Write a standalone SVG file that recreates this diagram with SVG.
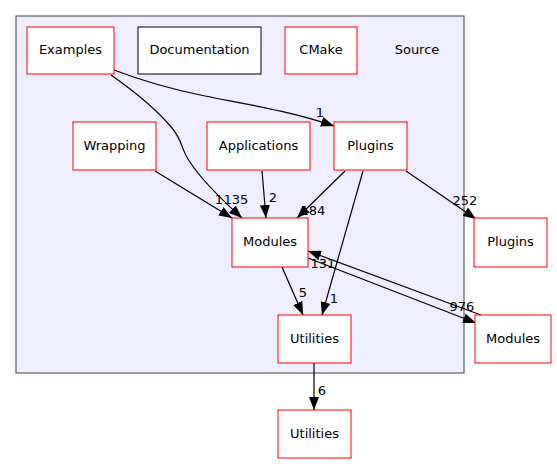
<svg xmlns="http://www.w3.org/2000/svg" width="557" height="464" viewBox="0 0 557 464">
<style>
text{font-family:"DejaVu Sans",Verdana,sans-serif;font-size:13px;fill:#000000;text-anchor:middle}
.n{fill:#fff;stroke:#ff0000;stroke-width:1}
.d{fill:#fff;stroke:#000;stroke-width:1}
.e{fill:none;stroke:#000;stroke-width:1.2;marker-end:url(#a)}
</style>
<defs>
<marker id="a" viewBox="0 0 13 10" refX="13" refY="5" markerWidth="13" markerHeight="10" orient="auto" markerUnits="userSpaceOnUse">
<path d="M0,0 L13,5 L0,10 Z" fill="#000"/>
</marker>
</defs>
<rect x="0" y="0" width="557" height="464" fill="#fff"/>
<g id="cluster_Source">
<rect x="16" y="16" width="448" height="357" fill="#eeeeff" stroke="#404040" stroke-width="1"/>
<text x="417" y="54">Source</text>
</g>
<g id="connectors">
<path class="e" d="M111,75 C131,89 157,110 172,128 C183,141 181,150 190,162 C200,178 220,198 242,218"/>
<path class="e" d="M114,70 C140,80 170,89 205,96 C245,104 290,111 334,126"/>
<path class="e" d="M155,171 L232,218"/>
<path class="e" d="M262,171 L266,218"/>
<path class="e" d="M345,171 L297,218"/>
<path class="e" d="M363,171 L322,315"/>
<path class="e" d="M406,171 L476,219"/>
<path class="e" d="M282,267 L303,315"/>
<path class="e" d="M308,258 L476,323"/>
<path class="e" d="M481,315 L308,251"/>
<path class="e" d="M314,363 L314,410"/>
<text x="219" y="204" fill="#000000">1</text>
<text x="236" y="204">135</text>
<text x="273" y="202">2</text>
<text x="313" y="215">184</text>
<text x="320" y="117" fill="#000000">1</text>
<text x="334" y="303" fill="#000000">1</text>
<text x="465" y="205">252</text>
<text x="303" y="297">5</text>
<text x="462" y="311">976</text>
<text x="323" y="268">131</text>
<text x="322" y="395">6</text>
</g>
<g id="Examples"><rect class="n" x="27" y="27" width="87" height="47"/><text x="70.5" y="54">Examples</text></g>
<g id="Documentation"><rect class="d" x="138" y="27" width="123" height="47"/><text x="199.5" y="54">Documentation</text></g>
<g id="CMake"><rect class="n" x="285" y="27" width="72" height="47"/><text x="321" y="54">CMake</text></g>
<g id="Wrapping"><rect class="n" x="73" y="122" width="83" height="48"/><text x="114.5" y="150">Wrapping</text></g>
<g id="Applications"><rect class="n" x="207" y="122" width="103" height="48"/><text x="258.5" y="150">Applications</text></g>
<g id="Plugins_inner"><rect class="n" x="334" y="122" width="73" height="48"/><text x="370.5" y="150">Plugins</text></g>
<g id="Modules_inner"><rect class="n" x="232" y="218" width="76" height="49"/><text x="270" y="246">Modules</text></g>
<g id="Utilities_inner"><rect class="n" x="278" y="315" width="73" height="48"/><text x="314.5" y="343">Utilities</text></g>
<g id="Plugins_outer"><rect class="n" x="474" y="218" width="73" height="49"/><text x="510.5" y="246">Plugins</text></g>
<g id="Modules_outer"><rect class="n" x="475" y="315" width="76" height="48"/><text x="513" y="343">Modules</text></g>
<g id="Utilities_outer"><rect class="n" x="278" y="410" width="73" height="48"/><text x="314.5" y="438">Utilities</text></g>
</svg>
